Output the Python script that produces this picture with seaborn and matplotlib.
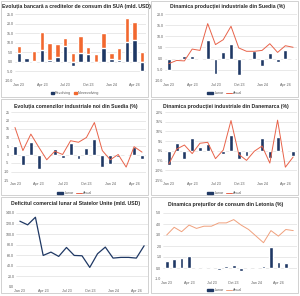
import numpy as np
import pandas as pd
import matplotlib
matplotlib.use("Agg")
import matplotlib.pyplot as plt
import seaborn as sns
from matplotlib.patches import Rectangle, Patch
from matplotlib.lines import Line2D
from matplotlib.ticker import FuncFormatter

sns.set_theme(style="white")
plt.rcParams['font.family'] = ['Liberation Sans', 'DejaVu Sans']

# ---------------- data ----------------
months = ["Jan 23", "Feb 23", "Mar 23", "Apr 23", "May 23", "Jun 23", "Jul 23", "Aug 23",
          "Sep 23", "Oct 23", "Nov 23", "Dec 23", "Jan 24", "Feb 24", "Mar 24", "Apr 24", "May 24"]
months6 = months + ["Jun 24"]
tick_labels = ["Jan 23", "Apr 23", "Jul 23", "Oct 23", "Jan 24", "Apr 24"]

titles = ["Evoluția bancară a creditelor de consum din SUA (mld. USD)",
          "Dinamica producției industriale din Suedia (%)",
          "Evoluția comenzilor industriale noi din Suedia (%)",
          "Dinamica producției industriale din Danemarca (%)",
          "Deficitul comercial lunar al Statelor Unite (mld. USD)",
          "Dinamica prețurilor de consum din Letonia (%)"]

revolving = [4.7, 2.1, 0.4, 6.1, 0.9, 2.5, 8.2, -2.3, 4.4, 4.0, -0.5, 7.4, 1.4, 0.9, 10.5, 11.4, -5.0]
nonrevolving = [3.5, 0.0, 5.4, 9.7, 8.7, 6.8, 4.1, 4.7, 9.1, 3.9, 4.0, 7.7, 3.0, 6.1, 12.3, 9.3, 4.9]

se_prod_m = [-5.0, 0.0, 1.2, 1.0, 0.2, 8.2, -6.7, 3.0, 6.6, -7.5, -0.5, 3.5, -3.5, 2.5, -1.5, 3.7, 0.0]
se_prod_y = [-2.2, -0.8, -1.0, 4.3, 3.7, 15.7, 6.3, 8.5, 14.5, 4.8, 3.3, 3.3, 3.7, 6.7, 2.8, 5.8, 5.1]

se_ord_m = [4.8, -6.4, 7.2, -8.3, 0.5, 3.3, -2.0, 6.6, -2.5, 3.9, 9.1, -7.4, -5.4, -1.2, -0.5, 4.6, -2.9]
se_ord_y = [15.9, 2.3, 12.0, 4.3, -3.1, 1.9, 0.0, 8.1, 7.2, 10.0, 18.8, 2.3, -3.1, 0.0, -7.4, 4.6, 1.4]

dk_prod_m = [-7.2, 3.9, -4.4, 6.8, 2.1, 3.3, -0.3, -1.8, 8.2, -4.0, -2.8, -0.3, 6.5, -3.7, 7.0, -0.5, -2.8]
dk_prod_y = [-6.7, 0.9, 3.0, -1.4, 3.9, 4.4, -4.0, 0.4, 15.6, -1.8, -4.9, -0.2, 2.5, -6.3, 15.8, -8.4, -3.2]

us_deficit = [124.5, 117.6, 132.0, 59.7, 66.0, 57.9, 74.8, 59.7, 59.1, 37.1, 62.9, 75.5, 54.7, 56.0, 56.0, 54.7, 78.0]

lv_cpi_m = [0.6, 0.8, 0.9, 1.05, -0.05, 0.05, 0.05, -0.2, 0.15, 0.3, -0.3, -0.05, 0.0, 0.15, 1.9, 0.55, 0.5, np.nan]
lv_cpi_y = [3.0, 3.7, 3.3, 3.9, 3.6, 3.8, 3.8, 4.1, 4.1, 4.4, 3.9, 3.5, 2.9, 2.3, 3.4, 2.9, 3.5, 3.4]

# ---------------- style ----------------
NAVY = "#1F3864"
ORANGE = "#F2682F"
RED = "#E8634A"
SALMON = "#F0A07C"
GRID = "#D9D9D9"
TXT = "#595959"

W, H = 300, 296
fig = plt.figure(figsize=(3.0, 2.96), dpi=100)
fig.patch.set_facecolor("white")


def fx(px):
    return px / W


def fy(py):
    return 1 - py / H


def make_ax(l, r, t, b):
    return fig.add_axes([fx(l), fy(b), fx(r - l), (b - t) / H])


def style(ax, ylim, yticks, fmt, n):
    ax.set_ylim(*ylim)
    ax.set_yticks(yticks)
    ax.yaxis.set_major_formatter(FuncFormatter(fmt))
    ax.set_xlim(-0.5, n - 0.5)
    ax.set_xticks([0, 3, 6, 9, 12, 15])
    ax.set_xticklabels(tick_labels)
    ax.tick_params(axis="both", labelsize=2.6, colors=TXT, length=0, pad=1.2)
    ax.grid(axis="y", color=GRID, lw=0.4)
    ax.set_axisbelow(True)
    for s in ax.spines.values():
        s.set_visible(False)
    ax.set_xlabel("")
    ax.set_ylabel("")


# panel borders
for (x0, y0) in [(1, 1), (151, 1), (1, 99), (151, 99), (1, 197), (151, 197)]:
    fig.patches.append(Rectangle((fx(x0), fy(y0 + 96)), fx(147), 96 / H,
                                 transform=fig.transFigure, fill=False,
                                 edgecolor="#BFBFBF", lw=0.5))

# titles
tpos = [(76, 6), (228, 6), (76, 106), (226, 106), (76, 204), (226, 204)]
for (tx, ty), t in zip(tpos, titles):
    fig.text(fx(tx), fy(ty), t, ha="center", va="center", fontsize=3.7,
             fontweight="bold", color="#262626")

pos17 = np.arange(len(months))
pos18 = np.arange(len(months6))

f1 = lambda v, p: f"{v:.1f}"
f0 = lambda v, p: f"{v:.0f}"
fp = lambda v, p: f"{v:.0f}%"

# ---- panel 1: stacked bars
ax1 = make_ax(15, 146, 14, 81)
total = np.maximum(np.array(revolving), 0) + np.array(nonrevolving)
sns.barplot(x=pos17, y=total, ax=ax1, color=ORANGE, width=0.58, errorbar=None, saturation=1)
sns.barplot(x=pos17, y=revolving, ax=ax1, color=NAVY, width=0.58, errorbar=None, saturation=1)
style(ax1, (-10, 25), np.arange(-10, 26, 5), f1, 17)
fig.legend(handles=[Patch(color=NAVY), Patch(color=ORANGE)], labels=["Revolving", "Nonrevolving"],
           loc="center", bbox_to_anchor=(fx(75), fy(93)), ncol=2, fontsize=2.6, frameon=False,
           handlelength=0.8, handleheight=0.6, columnspacing=0.8, handletextpad=0.3,
           labelcolor=TXT)

# ---- bar + line panels
def bar_line(rect, m, y, ylim, yticks, fmt, lc, n, pos, legy, cx):
    ax = make_ax(*rect)
    sns.barplot(x=pos, y=m, ax=ax, color=NAVY, width=0.5, errorbar=None, saturation=1)
    sns.lineplot(x=pos, y=y, ax=ax, color=lc, lw=0.7)
    style(ax, ylim, yticks, fmt, n)
    fig.legend(handles=[Patch(color=NAVY), Line2D([], [], color=lc, lw=0.7)],
               labels=["Lunar", "Anual"], loc="center", bbox_to_anchor=(fx(cx), fy(legy)),
               ncol=2, fontsize=2.6, frameon=False, handlelength=1.6, handleheight=0.6,
               columnspacing=0.8, handletextpad=0.3, labelcolor=TXT)
    return ax

bar_line((165, 297, 14, 81), se_prod_m, se_prod_y, (-10, 20), np.arange(-10, 21, 5), f1,
         RED, 17, pos17, 93, 225)
bar_line((11, 146, 112, 180), se_ord_m, se_ord_y, (-15, 25), np.arange(-15, 26, 5), f0,
         RED, 17, pos17, 193, 75)
bar_line((165, 297, 112, 180), dk_prod_m, dk_prod_y, (-15, 20), np.arange(-15, 21, 5), fp,
         RED, 17, pos17, 193, 225)
bar_line((163, 297, 213, 279), lv_cpi_m, lv_cpi_y, (-1, 5), np.arange(-1, 5.1, 1), f1,
         SALMON, 18, pos18, 290, 225)

# ---- panel 5: line
ax5 = make_ax(16, 148, 213, 287)
sns.lineplot(x=pos17, y=us_deficit, ax=ax5, color="#1F3864", lw=0.9)
style(ax5, (0, 140), np.arange(0, 141, 20), f1, 17)

fig.savefig("out.png", dpi=100, facecolor="white")
